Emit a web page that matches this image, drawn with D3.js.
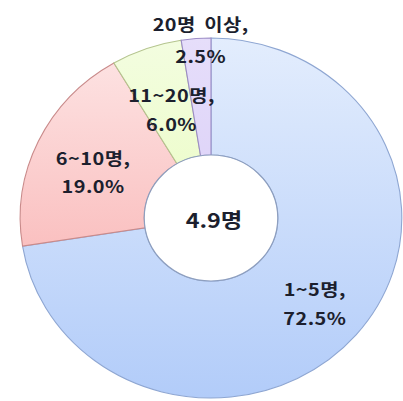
<!DOCTYPE html>
<html>
<head>
<meta charset="utf-8">
<script src="https://cdn.jsdelivr.net/npm/d3@7"></script>
<style>
  html, body { margin: 0; padding: 0; background: #fff; }
  svg { display: block; }
  .lbl { font-family: "Malgun Gothic", "Noto Sans CJK KR", sans-serif; font-weight: bold; fill: #1c1f2e; }
</style>
</head>
<body>
<div id="chart"></div>
<script>
(function () {
  "use strict";

  // ── Data ──────────────────────────────────────────
  const categories = ["1~5명", "6~10명", "11~20명", "20명 이상"];
  const shares = [72.5, 19.0, 6.0, 2.5];
  const centerLabel = "4.9명";

  // ── Style ─────────────────────────────────────────
  const W = 403, H = 401;
  const CX = 211, CY = 218;
  const R_OUT = 180, R_IN = 63;
  const SX = 1.06;                 // picture is a bit wider than tall
  const TX = 1.17;                 // labels use wider glyphs than Noto
  const fillTop = ["#e3edfd", "#fde6e6", "#f3fde0", "#e6defa"];
  const fillBot = ["#b2ccf9", "#f8a5a5", "#e4fbae", "#d2c4f6"];
  const strokes = ["#8ea6d2", "#c98a8a", "#b4c48e", "#9c8cc6"];
  const labelR = [135, 125, 110, 172];
  const nudge = [[-6, 4.5], [1, 14], [-1, 1.5], [3, -2]];
  const gap = [29, 28, 29, 32];

  const svg = d3.select("#chart").append("svg")
    .attr("width", W).attr("height", H);

  const defs = svg.append("defs");
  categories.forEach((c, i) => {
    const g = defs.append("linearGradient")
      .attr("id", "grad" + i)
      .attr("gradientUnits", "userSpaceOnUse")
      .attr("x1", 0).attr("y1", -R_OUT).attr("x2", 0).attr("y2", R_OUT);
    g.append("stop").attr("offset", "0%").attr("stop-color", fillTop[i]);
    g.append("stop").attr("offset", "100%").attr("stop-color", fillBot[i]);
  });

  const data = categories.map((c, i) => ({ name: c, value: shares[i], i }));
  const pie = d3.pie().sort(null).value(d => d.value);
  const arcs = pie(data);

  const arc = d3.arc().innerRadius(R_IN).outerRadius(R_OUT);

  const gPie = svg.append("g")
    .attr("transform", `translate(${CX},${CY}) scale(${SX},1)`);

  gPie.selectAll("path.slice")
    .data(arcs)
    .join("path")
    .attr("class", "slice")
    .attr("d", arc)
    .attr("fill", d => `url(#grad${d.data.i})`)
    .attr("stroke", d => strokes[d.data.i])
    .attr("stroke-width", 1.1)
    .attr("vector-effect", "non-scaling-stroke");

  // hole border
  gPie.append("circle")
    .attr("r", R_IN)
    .attr("fill", "#fff")
    .attr("stroke", "#8e9fbf")
    .attr("stroke-width", 1.2)
    .attr("vector-effect", "non-scaling-stroke");

  // ── Labels ────────────────────────────────────────
  const gLbl = svg.append("g").attr("transform", `translate(${CX},${CY})`);
  arcs.forEach(d => {
    const i = d.data.i;
    const la = d3.arc().innerRadius(labelR[i]).outerRadius(labelR[i]);
    const [x, y] = la.centroid(d);
    const px = x * SX + nudge[i][0] + 1;
    const py = y + nudge[i][1];
    const t = gLbl.append("text")
      .attr("class", "lbl")
      .attr("text-anchor", "middle")
      .attr("transform", `translate(${px},${py - 14}) scale(${TX},1)`)
      .style("font-size", "17px")
      .style("letter-spacing", "0.4px")
      .style("word-spacing", "3px");
    t.append("tspan").attr("x", 0).attr("y", 0).text(d.data.name + ",");
    t.append("tspan").attr("x", 0).attr("y", gap[i]).text(d3.format(".1f")(d.data.value) + "%");
  });

  gLbl.append("text")
    .attr("class", "lbl")
    .attr("text-anchor", "middle")
    .attr("transform", `translate(3,10) scale(${TX},1)`)
    .style("font-size", "20px")
    .text(centerLabel);
})();
</script>
</body>
</html>
